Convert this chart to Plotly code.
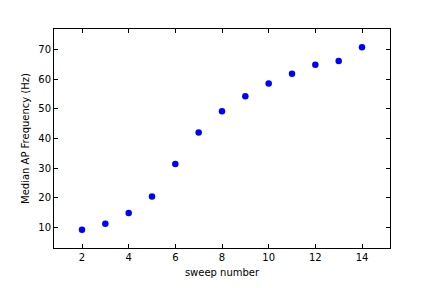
import plotly.graph_objects as go

sweep = [2, 3, 4, 5, 6, 7, 8, 9, 10, 11, 12, 13, 14]
freq = [9.3, 11.3, 14.9, 20.5, 31.4, 42.0, 49.2, 54.2, 58.5, 61.8, 64.8, 66.1, 70.7]

fig = go.Figure()
fig.add_trace(go.Scatter(
    x=sweep, y=freq, mode="markers",
    marker=dict(color="#0000ff", size=6.5, line=dict(width=0)),
    showlegend=False,
))

axis_common = dict(
    showline=True, linecolor="black", linewidth=1, mirror="allticks",
    ticks="inside", ticklen=4, tickwidth=1, tickcolor="black",
    showgrid=False, zeroline=False,
    tickfont=dict(family="DejaVu Sans", size=10, color="black"),
)

fig.update_layout(
    width=432, height=288,
    margin=dict(l=54, r=42, t=29, b=36),
    paper_bgcolor="white", plot_bgcolor="white",
    font=dict(family="DejaVu Sans", size=10, color="black"),
    xaxis=dict(range=[0.8, 15.2], tick0=2, dtick=2,
               title=dict(text="sweep number", standoff=6, font=dict(size=10)),
               **axis_common),
    yaxis=dict(range=[3.16, 76.84], tick0=10, dtick=10,
               title=dict(text="Median AP Frequency (Hz)", standoff=6, font=dict(size=10)),
               **axis_common),
)

fig.write_html("out.html")
